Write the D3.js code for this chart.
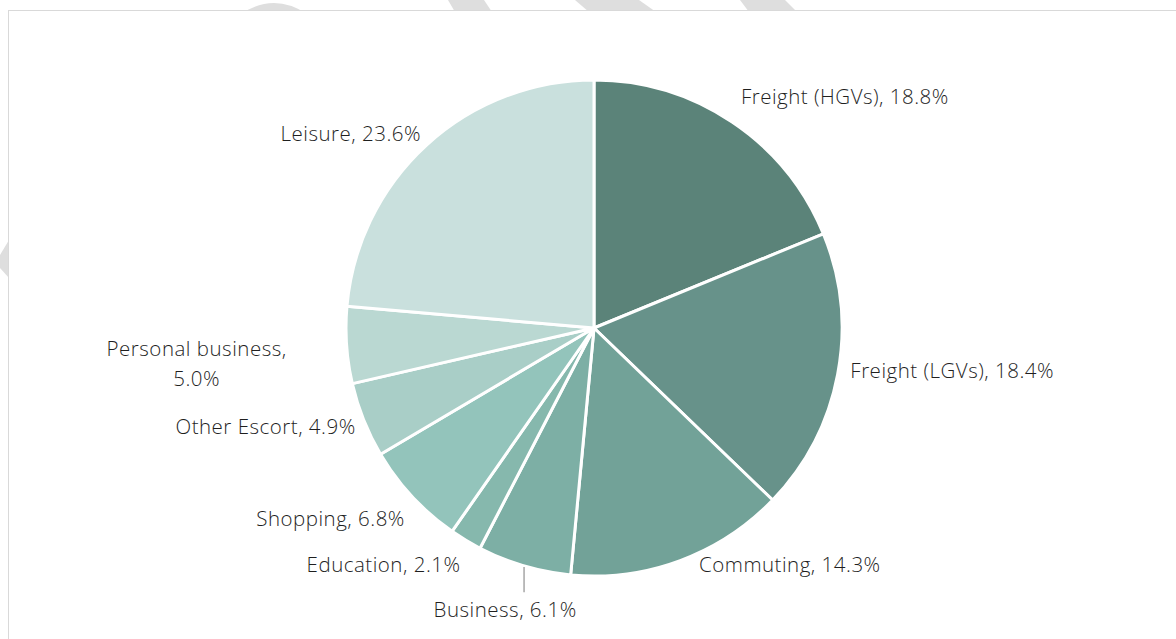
<!DOCTYPE html>
<html>
<head>
<meta charset="utf-8">
<script src="https://cdn.jsdelivr.net/npm/d3@7"></script>
<style>
  html, body { margin: 0; padding: 0; background: #fff; }
  #chart { width: 1176px; height: 639px; }
</style>
</head>
<body>
<div id="chart"></div>
<script>
// data, clockwise from 12 o'clock
const categories = ["Freight (HGVs)", "Freight (LGVs)", "Commuting", "Business", "Education",
    "Shopping", "Other Escort", "Personal business", "Leisure"];
const shares = [18.8, 18.4, 14.3, 6.1, 2.1, 6.8, 4.9, 5.0, 23.6];
const sliceColors = ["#5b8379", "#67928a", "#72a298", "#7dafa5", "#86b8ad",
    "#93c4bb", "#a9cec7", "#bad8d2", "#c9e0dd"];

// label placement tweaks (Excel best-fit) relative to the slice's outer mid point
const labelNudge = [[1, -14], [-1, -7], [14, -10], [-15, 30], [2, 12], [3, 12], [5, 1], [-136, 17], [4, -2]];

function renderPie() {
    const width = 1176, height = 639;
    const svg = d3.select("#chart").append("svg")
        .attr("width", width)
        .attr("height", height)
        .style("display", "block");

    // faint watermark peeking out behind the chart frame
    const wm = svg.append("g").attr("fill", "#dedede");
    wm.append("path").attr("d", "M241,14 Q274,-8 307,14 Z");
    wm.append("path").attr("d", "M448,0 L484,0 L492,12 L455,12 Z");
    wm.append("path").attr("d", "M575,0 L639,0 L656,12 L589,12 Z");
    wm.append("path").attr("d", "M740,0 L785,0 L797,12 L749,12 Z");
    wm.append("path").attr("d", "M9,240 L9,278 L0,268 L0,255 Z");

    // chart area frame
    svg.append("rect")
        .attr("x", 8.5)
        .attr("y", 10.5)
        .attr("width", width)
        .attr("height", height)
        .attr("fill", "#fff")
        .attr("stroke", "#d9d9d9")
        .attr("stroke-width", 1);

    const cx = 594, cy = 328, radius = 248;
    const g = svg.append("g").attr("transform", `translate(${cx},${cy})`);

    const data = categories.map((c, i) => ({ name: c, value: shares[i], color: sliceColors[i], nudge: labelNudge[i] }));

    const pie = d3.pie().sort(null).value(d => d.value);
    const arc = d3.arc().innerRadius(0).outerRadius(radius);
    const arcs = pie(data);

    g.selectAll("path.slice")
        .data(arcs)
        .enter()
        .append("path")
        .attr("class", "slice")
        .attr("d", arc)
        .attr("fill", d => d.data.color)
        .attr("stroke", "#fff")
        .attr("stroke-width", 3)
        .attr("stroke-linejoin", "round");

    const labelR = radius + 14;
    const fmt = d3.format(".1f");

    arcs.forEach(a => {
        const mid = (a.startAngle + a.endAngle) / 2;
        const px = labelR * Math.sin(mid) + a.data.nudge[0];
        const py = -labelR * Math.cos(mid) + a.data.nudge[1];
        const label = `${a.data.name}, ${fmt(a.data.value)}%`;

        const text = g.append("text")
            .attr("fill", "#1f1f1f")
            .style("font-family", "'Open Sans', Lato, sans-serif")
            .style("font-weight", 300)
            .style("font-size", "20.5px")
            .style("letter-spacing", "0.5px")
            .attr("dominant-baseline", "central");

        if (a.data.name === "Personal business") {
            // wrapped on two lines
            text.attr("text-anchor", "middle");
            text.append("tspan").attr("x", px).attr("y", py - 15).text(`${a.data.name},`);
            text.append("tspan").attr("x", px).attr("y", py + 15).text(`${fmt(a.data.value)}%`);
        } else if (a.data.name === "Business") {
            text.attr("text-anchor", "middle").attr("x", px).attr("y", py).text(label);
            // leader line
            const ex = radius * Math.sin(mid), ey = -radius * Math.cos(mid);
            g.append("line")
                .attr("x1", ex).attr("y1", ey + 1)
                .attr("x2", ex).attr("y2", py - 17)
                .attr("stroke", "#a6a6a6")
                .attr("stroke-width", 1.5);
        } else {
            text.attr("text-anchor", Math.sin(mid) > 0 ? "start" : "end")
                .attr("x", px).attr("y", py).text(label);
        }
    });
}

renderPie();
</script>
</body>
</html>
